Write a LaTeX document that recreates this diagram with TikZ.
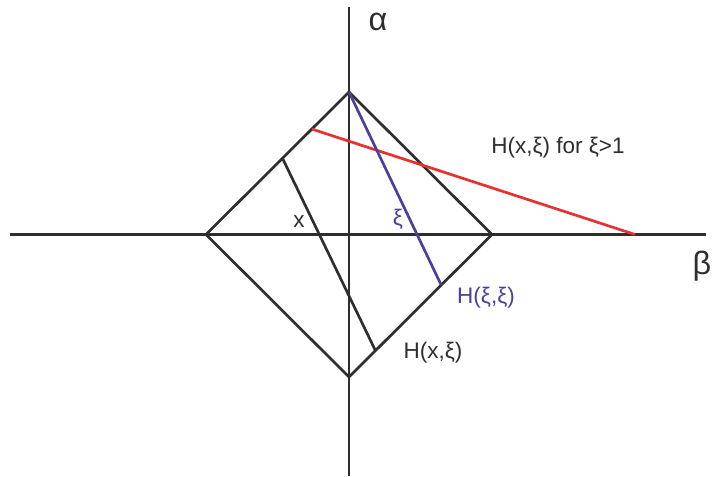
\documentclass[tikz,border=0pt]{standalone}
\usepackage{fontspec}
\setmainfont{Liberation Sans}
\usetikzlibrary{calc}
\definecolor{Ink}{HTML}{2E2E2E}
\definecolor{Hot}{HTML}{E8302F}
\definecolor{Skew}{HTML}{4A3F9B}
\begin{document}
\begin{tikzpicture}[x=0.025cm,y=-0.025cm,
          axis/.style={draw=Ink,line width=1.9pt},
          edge/.style={draw=Ink,line width=1.9pt,line join=miter},
          hot/.style={draw=Hot,line width=1.9pt},
          skew/.style={draw=Skew,line width=1.9pt},
          lbl/.style={text=Ink,font=\fontsize{16}{18}\selectfont,inner sep=0pt},
          big/.style={text=Ink,font=\fontsize{23}{26}\selectfont,inner sep=0pt}]
        \useasboundingbox (0,0) rectangle (713,476);
        % axes
        \coordinate (west) at (10,234.5);
        \coordinate (east) at (706,234.5);
        \coordinate (north) at (349,7);
        \coordinate (south) at (349,476);
        \draw[axis] (west)--(east);
        \draw[axis] (north)--(south);
        % diamond
        \coordinate (top) at (349,92);
        \coordinate (right) at (492,234.5);
        \coordinate (bottom) at (349,377);
        \coordinate (left) at (206,234.5);
        \draw[edge] (top)--(right)--(bottom)--(left)--cycle;
        % lines across
        \coordinate (hotA) at ($(left)!0.74!(top)$);
        \coordinate (hotB) at (635,234.5);
        \coordinate (inkA) at ($(left)!0.535!(top)$);
        \coordinate (inkB) at ($(bottom)!0.185!(right)$);
        \coordinate (skewB) at ($(bottom)!0.645!(right)$);
        \draw[hot] (hotA)--(hotB);
        \draw[edge] (inkA)--(inkB);
        \draw[skew] (top)--(skewB);
        % labels
        \node[big] (alpha) at (378,22) {α};
        \node[big] (beta) at (702,266) {β};
        \node[lbl] (hotlbl) at (558,148) {H(x,ξ) for ξ>1};
        \node[lbl,text=Skew] (skewlbl) at (486,298) {H(ξ,ξ)};
        \node[lbl] (inklbl) at (433,353) {H(x,ξ)};
        \node[lbl] (xlbl) at (299,222) {x};
        \node[lbl,text=Skew] (xilbl) at (398,219) {ξ};
      \end{tikzpicture}
\end{document}
